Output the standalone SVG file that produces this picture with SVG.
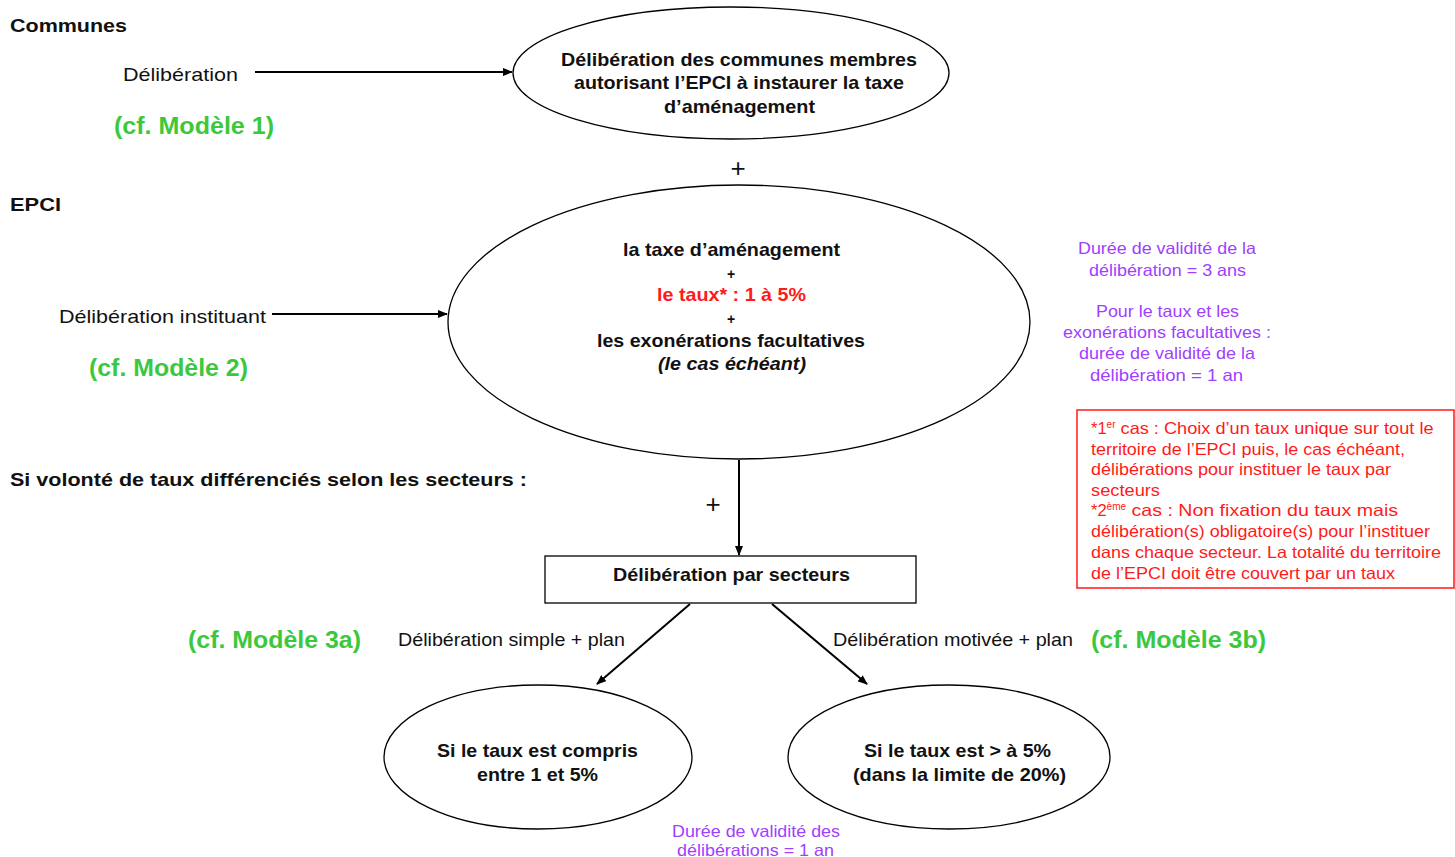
<svg xmlns="http://www.w3.org/2000/svg" width="1455" height="857" viewBox="0 0 1455 857">
<defs>
<marker id="arr" markerWidth="10" markerHeight="8" refX="9" refY="4" orient="auto" markerUnits="userSpaceOnUse">
<path d="M0,0 L10,4 L0,8 z" fill="#000"/>
</marker>
<style>
text{font-family:"Liberation Sans",Arial,sans-serif;fill:#111;}
.b{font-weight:bold;}
.t{font-size:19px;}
.h{font-size:19px;font-weight:bold;}
.g{font-size:23px;font-weight:bold;fill:#3cc83c;}
.p{font-size:16.5px;fill:#a040ff;}
.r{font-size:16.5px;fill:#ff1a1a;}
.c{text-anchor:middle;}
.shape{fill:#fff;stroke:#000;stroke-width:1.3;}
.conn{stroke:#000;stroke-width:2;fill:none;}
</style>
</defs>
<rect width="1455" height="857" fill="#fff"/>

<g id="labels">
<text x="10" y="32" class="h" textLength="117" lengthAdjust="spacingAndGlyphs">Communes</text>
<text x="123" y="81" class="t" textLength="115" lengthAdjust="spacingAndGlyphs">Délibération</text>
<text x="114" y="134" class="g" textLength="160" lengthAdjust="spacingAndGlyphs">(cf. Modèle 1)</text>
<text x="10" y="211" class="h" textLength="51" lengthAdjust="spacingAndGlyphs">EPCI</text>
<text x="59" y="323" class="t" textLength="207" lengthAdjust="spacingAndGlyphs">Délibération instituant</text>
<text x="89" y="376" class="g" textLength="159" lengthAdjust="spacingAndGlyphs">(cf. Modèle 2)</text>
<text x="10" y="486" class="h" textLength="517" lengthAdjust="spacingAndGlyphs">Si volonté de taux différenciés selon les secteurs :</text>
<text x="738" y="177" class="c" style="font-size:26px;">+</text>
<text x="713" y="513" class="c" style="font-size:26px;">+</text>
<text x="188" y="648" class="g" textLength="173" lengthAdjust="spacingAndGlyphs">(cf. Modèle 3a)</text>
<text x="398" y="646" class="t" textLength="227" lengthAdjust="spacingAndGlyphs">Délibération simple + plan</text>
<text x="833" y="646" class="t" textLength="240" lengthAdjust="spacingAndGlyphs">Délibération motivée + plan</text>
<text x="1091" y="648" class="g" textLength="175" lengthAdjust="spacingAndGlyphs">(cf. Modèle 3b)</text>
</g>

<g id="notes">
<text x="1078" y="254" class="p" textLength="178" lengthAdjust="spacingAndGlyphs">Durée de validité de la</text>
<text x="1089" y="276" class="p" textLength="157" lengthAdjust="spacingAndGlyphs">délibération = 3 ans</text>
<text x="1096" y="317" class="p" textLength="143" lengthAdjust="spacingAndGlyphs">Pour le taux et les</text>
<text x="1063" y="338" class="p" textLength="208" lengthAdjust="spacingAndGlyphs">exonérations facultatives :</text>
<text x="1079" y="359" class="p" textLength="176" lengthAdjust="spacingAndGlyphs">durée de validité de la</text>
<text x="1090" y="381" class="p" textLength="153" lengthAdjust="spacingAndGlyphs">délibération  = 1 an</text>
<text x="672" y="837" class="p" textLength="168" lengthAdjust="spacingAndGlyphs">Durée de validité des</text>
<text x="677" y="856" class="p" textLength="157" lengthAdjust="spacingAndGlyphs">délibérations = 1 an</text>
</g>

<g id="note-box">
<rect x="1077" y="410" width="377" height="178" fill="#fff" stroke="#ff1a1a" stroke-width="1.5"/>
<text x="1091" y="434" class="r">*1<tspan dy="-6" style="font-size:10px">er</tspan><tspan dy="6" textLength="318" lengthAdjust="spacingAndGlyphs"> cas : Choix d’un taux unique sur tout le</tspan></text>
<text x="1091" y="455" class="r" textLength="314" lengthAdjust="spacingAndGlyphs">territoire de l’EPCI puis, le cas échéant,</text>
<text x="1091" y="475" class="r" textLength="300" lengthAdjust="spacingAndGlyphs">délibérations pour instituer le taux par</text>
<text x="1091" y="496" class="r" textLength="69" lengthAdjust="spacingAndGlyphs">secteurs</text>
<text x="1091" y="516" class="r">*2<tspan dy="-6" style="font-size:10px">ème</tspan><tspan dy="6" textLength="272" lengthAdjust="spacingAndGlyphs"> cas : Non fixation du taux mais</tspan></text>
<text x="1091" y="537" class="r" textLength="339" lengthAdjust="spacingAndGlyphs">délibération(s) obligatoire(s) pour l’instituer</text>
<text x="1091" y="558" class="r" textLength="350" lengthAdjust="spacingAndGlyphs">dans chaque secteur. La totalité du territoire</text>
<text x="1091" y="579" class="r" textLength="304" lengthAdjust="spacingAndGlyphs">de l’EPCI doit être couvert par un taux</text>
</g>

<g id="connectors">
<line x1="255" y1="72" x2="512" y2="72" class="conn" marker-end="url(#arr)"/>
<line x1="272" y1="314" x2="447" y2="314" class="conn" marker-end="url(#arr)"/>
<line x1="739" y1="460" x2="739" y2="555" class="conn" marker-end="url(#arr)"/>
<line x1="690" y1="604" x2="597" y2="684" class="conn" marker-end="url(#arr)"/>
<line x1="772" y1="604" x2="867" y2="684" class="conn" marker-end="url(#arr)"/>
</g>

<g id="node-communes">
<ellipse cx="731" cy="73" rx="218" ry="66" class="shape"/>
<text x="561" y="66" class="t b" textLength="356" lengthAdjust="spacingAndGlyphs">Délibération des communes membres</text>
<text x="574" y="89" class="t b" textLength="330" lengthAdjust="spacingAndGlyphs">autorisant l’EPCI à instaurer la taxe</text>
<text x="664" y="113" class="t b" textLength="151" lengthAdjust="spacingAndGlyphs">d’aménagement</text>
</g>

<g id="node-epci">
<ellipse cx="739" cy="322" rx="291" ry="137" class="shape"/>
<text x="623" y="256" class="t b" textLength="217" lengthAdjust="spacingAndGlyphs">la taxe d’aménagement</text>
<text x="731" y="279" class="b c" style="font-size:14px">+</text>
<text x="657" y="301" class="t b" style="fill:#ff1a1a" textLength="149" lengthAdjust="spacingAndGlyphs">le taux* : 1 à 5%</text>
<text x="731" y="324" class="b c" style="font-size:14px">+</text>
<text x="597" y="347" class="t b" textLength="268" lengthAdjust="spacingAndGlyphs">les exonérations facultatives</text>
<text x="658" y="370" class="t b" style="font-style:italic" textLength="148" lengthAdjust="spacingAndGlyphs">(le cas échéant)</text>
</g>

<g id="node-secteurs">
<rect x="545" y="556" width="371" height="47" class="shape"/>
<text x="613" y="581" class="t b" textLength="237" lengthAdjust="spacingAndGlyphs">Délibération par secteurs</text>
</g>

<g id="node-simple">
<ellipse cx="538" cy="757" rx="154" ry="72" class="shape"/>
<text x="437" y="757" class="t b" textLength="201" lengthAdjust="spacingAndGlyphs">Si le taux est compris</text>
<text x="477" y="781" class="t b" textLength="121" lengthAdjust="spacingAndGlyphs">entre 1 et 5%</text>
</g>

<g id="node-motivee">
<ellipse cx="949" cy="757" rx="161" ry="72" class="shape"/>
<text x="864" y="757" class="t b" textLength="187" lengthAdjust="spacingAndGlyphs">Si le taux est &gt; à 5%</text>
<text x="853" y="781" class="t b" textLength="213" lengthAdjust="spacingAndGlyphs">(dans la limite de 20%)</text>
</g>
</svg>
